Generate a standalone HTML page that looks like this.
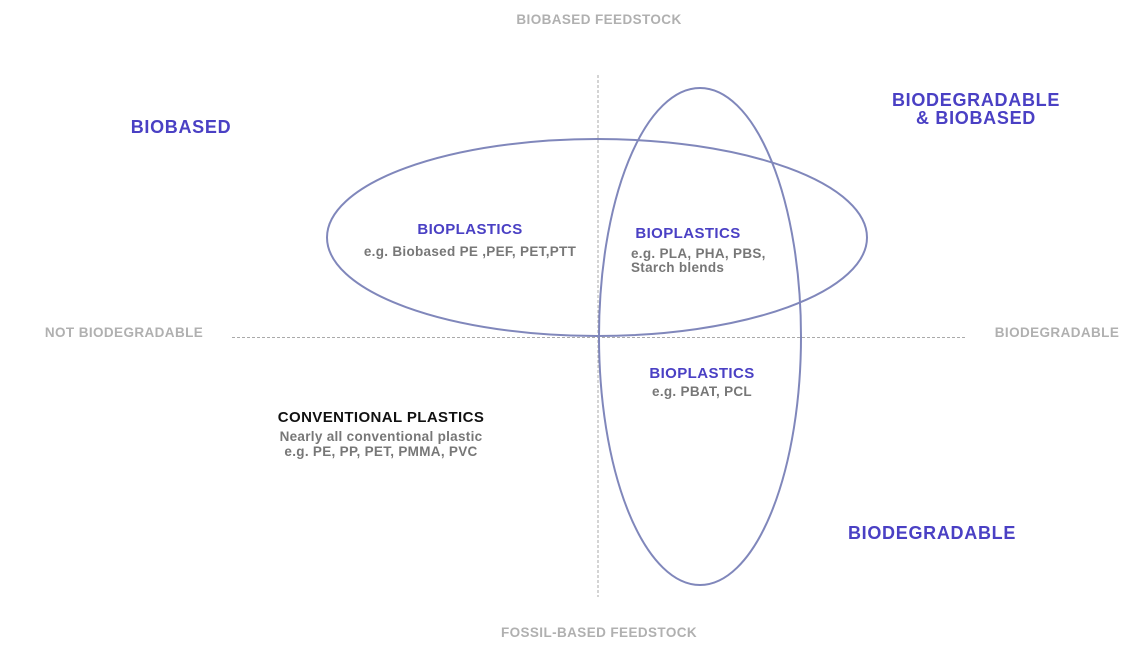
<!DOCTYPE html>
<html><head><style>
html,body{margin:0;padding:0;background:#fff;}
svg{display:block;}
text{font-family:"Liberation Sans",Arial,sans-serif;font-weight:bold;}
</style></head><body>
<svg width="1145" height="655" viewBox="0 0 1145 655" xmlns="http://www.w3.org/2000/svg">
<line x1="598" y1="75" x2="598" y2="597" stroke="#aaa" stroke-width="1" stroke-dasharray="3,2"/>
<line x1="232" y1="337.5" x2="965" y2="337.5" stroke="#aaa" stroke-width="1" stroke-dasharray="3,2"/>
<ellipse cx="597" cy="237.5" rx="270" ry="98.5" fill="none" stroke="#8087bb" stroke-width="2"/>
<ellipse cx="700" cy="336.5" rx="101" ry="248.5" fill="none" stroke="#8087bb" stroke-width="2"/>
<g fill="#b0b0b0" font-size="13.5" text-anchor="middle" letter-spacing="0.4">
<text x="599" y="24">BIOBASED FEEDSTOCK</text>
<text x="599" y="637">FOSSIL-BASED FEEDSTOCK</text>
<text x="124" y="337">NOT BIODEGRADABLE</text>
<text x="1057" y="337">BIODEGRADABLE</text>
</g>
<g fill="#4a40c4" font-size="18" text-anchor="middle" letter-spacing="0.7">
<text x="181" y="133">BIOBASED</text>
<text x="976" y="106">BIODEGRADABLE</text>
<text x="976" y="124">&amp; BIOBASED</text>
<text x="932" y="539">BIODEGRADABLE</text>
</g>
<g fill="#4a40c4" font-size="15" text-anchor="middle" letter-spacing="0.4">
<text x="470" y="234">BIOPLASTICS</text>
<text x="688" y="238">BIOPLASTICS</text>
<text x="702" y="378">BIOPLASTICS</text>
</g>
<text x="381" y="422" font-size="15" fill="#111" text-anchor="middle" letter-spacing="0.4">CONVENTIONAL PLASTICS</text>
<g fill="#777" font-size="13.5" text-anchor="middle" letter-spacing="0.3">
<text x="470" y="256">e.g. Biobased PE ,PEF, PET,PTT</text>
<text x="702" y="396">e.g. PBAT, PCL</text>
<text x="381" y="441">Nearly all conventional plastic</text>
<text x="381" y="456">e.g. PE, PP, PET, PMMA, PVC</text>
</g>
<g fill="#777" font-size="13.5" letter-spacing="0.3">
<text x="631" y="258">e.g. PLA, PHA, PBS,</text>
<text x="631" y="272">Starch blends</text>
</g>
</svg>
</body></html>
